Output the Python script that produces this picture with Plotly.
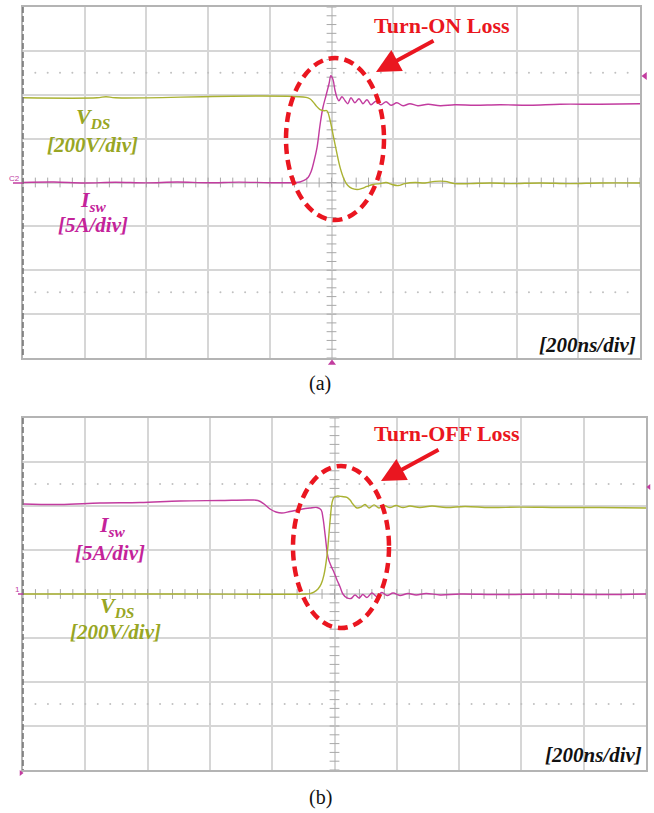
import plotly.graph_objects as go

# ---------------- measured waveforms ----------------
# (a) turn-on transition: time in ns, V_DS in volts, I_sw in amps
t_on_vds = [-1000, -760, -731, -700, -76, -63, -50, -37, -24, -15, -5, 5, 15, 28, 41,
            53, 66, 83, 99, 115, 135, 157, 177, 196, 216, 238, 271, 303, 335, 368,
            400, 449, 514, 579, 676, 773, 870, 1000]
v_on_vds = [386, 386, 391, 386, 386, 373, 350, 332, 327, 327, 286, 218, 150, 68, 14,
            -14, -27, -32, -27, -18, -9, -5, 0, -9, -14, -5, 0, -2, 5, 5,
            -5, -5, -2, -5, -2, -5, -2, -2]

t_on_isw = [-1000, -900, -800, -700, -600, -500, -400, -300, -200, -115, -102, -89, -76,
            -66, -57, -47, -37, -28, -18, -8, -2, 5, 11, 18, 24, 34, 44, 53, 63, 76,
            89, 102, 115, 128, 144, 160, 177, 193, 212, 232, 254, 280, 313, 352, 400,
            465, 546, 643, 741, 870, 1000]
i_on_isw = [0.0, 0.05, -0.05, 0.03, -0.04, 0.05, -0.03, 0.04, -0.02, 0.0, 0.06, 0.23, 0.57,
            1.25, 2.39, 3.98, 6.59, 8.52, 9.89, 11.25, 12.16, 11.7, 10.57, 9.66, 9.32, 9.77,
            9.32, 8.98, 9.66, 9.09, 9.55, 8.98, 9.43, 8.86, 9.26, 8.86, 9.2, 8.8, 9.09, 8.75,
            8.98, 8.75, 8.92, 8.75, 8.86, 8.8, 8.86, 8.8, 8.92, 8.92, 8.98]

# (b) turn-off transition
t_off_isw = [-1000, -881, -753, -624, -496, -368, -271, -246, -226, -207, -188, -169,
             -143, -111, -79, -56, -43, -37, -30, -21, -11, -2, 8, 18, 27, 40, 53, 66,
             79, 91, 104, 120, 136, 152, 169, 188, 210, 236, 262, 294, 339, 403, 531,
             692, 852, 1000]
i_off_isw = [10.23, 10.17, 10.34, 10.4, 10.57, 10.63, 10.68, 10.63, 10.23, 9.66, 9.32, 9.2,
             9.37, 9.6, 9.77, 9.83, 9.55, 8.64, 6.7, 4.2, 3.18, 2.5, 1.59, 0.8, 0.0, -0.45,
             -0.51, -0.11, -0.45, -0.06, -0.4, 0.11, -0.28, 0.17, -0.17, 0.11, -0.17, 0.06,
             -0.11, 0.06, -0.11, 0.0, -0.06, 0.0, -0.06, 0.0]

t_off_vds = [-1000, -500, -95, -79, -66, -53, -43, -34, -24, -14, -8, -2, 8, 24, 40, 50,
             59, 72, 85, 98, 111, 127, 143, 159, 178, 197, 220, 242, 274, 313, 358, 419,
             499, 595, 724, 852, 1000]
v_off_vds = [0, 0, 0, 2, 9, 23, 45, 86, 177, 336, 414, 439, 445, 443, 439, 427,
             409, 391, 395, 407, 391, 405, 391, 402, 393, 402, 393, 400, 393, 400, 393, 398,
             393, 395, 393, 393, 391]

# scope settings
time_div = 200      # ns/div
volt_div = 200      # V/div
amp_div = 5         # A/div
n_hdiv, n_vdiv = 10, 8

VDS_COLOR = "#aab232"
ISW_COLOR = "#c23c9f"
VDS_TEXT = "#98a624"
ISW_TEXT = "#c4239a"
RED = "#ea1620"
GRID = "#d6d6d6"
SERIF = "Liberation Serif, Times New Roman, serif"

W, H = 654, 813


def px(x):
    return x / W


def py(y):
    return 1 - y / H


fig = go.Figure()

panels = [
    # (x axis, current axis, voltage axis, left, right, top, bottom)
    ("x", "y", "y3", 23, 640, 7, 358),
    ("x2", "y2", "y4", 23, 646, 418, 770),
]

xr = [-n_hdiv / 2 * time_div, n_hdiv / 2 * time_div]
yr_i = [-n_vdiv / 2 * amp_div, n_vdiv / 2 * amp_div]
yr_v = [-n_vdiv / 2 * volt_div, n_vdiv / 2 * volt_div]

minor_t = [xr[0] + k * time_div / 5 for k in range(n_hdiv * 5 + 1)]
minor_i = [yr_i[0] + k * amp_div / 5 for k in range(n_vdiv * 5 + 1)]
dot_t = [xr[0] + k * time_div / 5 for k in range(1, n_hdiv * 5)]

for xa, ya, va, l, r, t, b in panels:
    # centre graticule ticks
    fig.add_trace(go.Scatter(x=minor_t, y=[0] * len(minor_t), xaxis=xa, yaxis=ya,
                             mode="markers", hoverinfo="skip",
                             marker=dict(symbol="line-ns", size=7,
                                         line=dict(width=1, color="#a8a8a8"))))
    fig.add_trace(go.Scatter(x=[0] * len(minor_i), y=minor_i, xaxis=xa, yaxis=ya,
                             mode="markers", hoverinfo="skip",
                             marker=dict(symbol="line-ew", size=7,
                                         line=dict(width=1, color="#a8a8a8"))))
    # dotted rows at +/- 2.5 div
    for lev in (2.5 * amp_div, -2.5 * amp_div):
        fig.add_trace(go.Scatter(x=dot_t, y=[lev] * len(dot_t), xaxis=xa, yaxis=ya,
                                 mode="markers", hoverinfo="skip",
                                 marker=dict(size=2, color="#c0c0c0")))

# waveforms
fig.add_trace(go.Scatter(x=t_on_vds, y=v_on_vds, xaxis="x", yaxis="y3", mode="lines",
                         line=dict(color=VDS_COLOR, width=1.4), line_shape="spline"))
fig.add_trace(go.Scatter(x=t_on_isw, y=i_on_isw, xaxis="x", yaxis="y", mode="lines",
                         line=dict(color=ISW_COLOR, width=1.4), line_shape="spline"))
fig.add_trace(go.Scatter(x=t_off_vds, y=v_off_vds, xaxis="x2", yaxis="y4", mode="lines",
                         line=dict(color=VDS_COLOR, width=1.4), line_shape="spline"))
fig.add_trace(go.Scatter(x=t_off_isw, y=i_off_isw, xaxis="x2", yaxis="y2", mode="lines",
                         line=dict(color=ISW_COLOR, width=1.4), line_shape="spline"))

axis_common = dict(showgrid=True, gridcolor=GRID, gridwidth=1.5, zeroline=False,
                   showticklabels=False, ticks="", showline=True, mirror=True,
                   linecolor="#b4b4b4", linewidth=1.5, fixedrange=True)

layout = dict(
    width=W, height=H, margin=dict(l=0, r=0, t=0, b=0),
    paper_bgcolor="white", plot_bgcolor="rgba(0,0,0,0)", showlegend=False,
)
(_, _, _, la, ra, ta, ba), (_, _, _, lb, rb, tb, bb) = panels
layout["xaxis"] = dict(axis_common, domain=[px(la), px(ra)], range=xr, dtick=time_div,
                       tick0=xr[0], anchor="y")
layout["yaxis"] = dict(axis_common, domain=[py(ba), py(ta)], range=yr_i, dtick=amp_div,
                       tick0=yr_i[0], anchor="x")
layout["yaxis3"] = dict(range=yr_v, overlaying="y", visible=False, anchor="x")
layout["xaxis2"] = dict(axis_common, domain=[px(lb), px(rb)], range=xr, dtick=time_div,
                        tick0=xr[0], anchor="y2")
layout["yaxis2"] = dict(axis_common, domain=[py(bb), py(tb)], range=yr_i, dtick=amp_div,
                        tick0=yr_i[0], anchor="x2")
layout["yaxis4"] = dict(range=yr_v, overlaying="y2", visible=False, anchor="x2")
fig.update_layout(**layout)

shapes = []
# dashed left border of each graticule
for _, _, _, l, r, t, b in panels:
    shapes.append(dict(type="line", xref="paper", yref="paper", x0=px(l), x1=px(l),
                       y0=py(t), y1=py(b), line=dict(color="#707070", width=1.5,
                                                     dash="6px,3px")))
# channel offset stubs left of the graticule
shapes.append(dict(type="line", xref="paper", yref="paper", x0=px(13), x1=px(23),
                   y0=py(183), y1=py(183), line=dict(color=ISW_COLOR, width=1.5)))
shapes.append(dict(type="line", xref="paper", yref="paper", x0=px(18), x1=px(23),
                   y0=py(594), y1=py(594), line=dict(color=ISW_COLOR, width=1.5)))
# loss regions
for x0, x1, y0, y1 in [(286, 384, 58, 220), (293, 389, 466, 628)]:
    shapes.append(dict(type="circle", xref="paper", yref="paper", x0=px(x0), x1=px(x1),
                       y0=py(y1), y1=py(y0),
                       line=dict(color=RED, width=4.5, dash="10px,6px")))
fig.update_layout(shapes=shapes)


def label(x, y, text, color, size=21, xanchor="center", family=SERIF):
    fig.add_annotation(x=px(x), y=py(y), xref="paper", yref="paper", text=text,
                       showarrow=False, xanchor=xanchor, yanchor="middle",
                       font=dict(family=family, size=size, color=color))


# (a)
label(93, 118, "<b><i>V<sub>DS</sub></i></b>", VDS_TEXT, size=22)
label(92, 145, "<b><i>[200V/div]</i></b>", VDS_TEXT)
label(93, 201, "<b><i>I<sub>sw</sub></i></b>", ISW_TEXT, size=22)
label(93, 225, "<b><i>[5A/div]</i></b>", ISW_TEXT)
label(442, 25, "<b>Turn-ON Loss</b>", RED, size=22)
label(638, 345, "<b><i>[200ns/div]</i></b>", "#111111", xanchor="right")
label(320, 383, "(a)", "#111111", size=20)
label(22, 178, "C2", ISW_COLOR, size=8, xanchor="right",
      family="Liberation Sans, Arial, sans-serif")

# (b)
label(112, 526, "<b><i>I<sub>sw</sub></i></b>", ISW_TEXT, size=22)
label(110, 553, "<b><i>[5A/div]</i></b>", ISW_TEXT)
label(117, 607, "<b><i>V<sub>DS</sub></i></b>", VDS_TEXT, size=22)
label(115, 632, "<b><i>[200V/div]</i></b>", VDS_TEXT)
label(447, 433, "<b>Turn-OFF Loss</b>", RED, size=22)
label(644, 755, "<b><i>[200ns/div]</i></b>", "#111111", xanchor="right")
label(320, 797, "(b)", "#111111", size=20)
label(22, 589, "1", ISW_COLOR, size=8, xanchor="right",
      family="Liberation Sans, Arial, sans-serif")

# arrows pointing at the loss regions
for hx, hy, tx, ty in [(376, 72, 435, 40), (381, 481, 440, 449)]:
    fig.add_annotation(x=px(hx), y=py(hy), xref="paper", yref="paper", text="",
                       showarrow=True, ax=tx - hx, ay=ty - hy, axref="pixel", ayref="pixel",
                       arrowhead=2, arrowsize=1.2, arrowwidth=4, arrowcolor=RED)

# trigger / position markers
markers = [(645, 76, "triangle-left", 7), (332, 363, "triangle-up", 7),
           (649, 487, "triangle-left", 5), (21, 773, "triangle-right", 5)]
for mx, my, sym, sz in markers:
    fig.add_trace(go.Scatter(x=[px(mx)], y=[py(my)], xaxis="x5", yaxis="y5",
                             mode="markers", hoverinfo="skip", cliponaxis=False,
                             marker=dict(symbol=sym, size=sz, color=ISW_COLOR)))
fig.update_layout(
    xaxis5=dict(domain=[0, 1], range=[0, 1], visible=False, anchor="y5", fixedrange=True),
    yaxis5=dict(domain=[0, 1], range=[0, 1], visible=False, anchor="x5", fixedrange=True),
)

fig.write_html("out.html")
